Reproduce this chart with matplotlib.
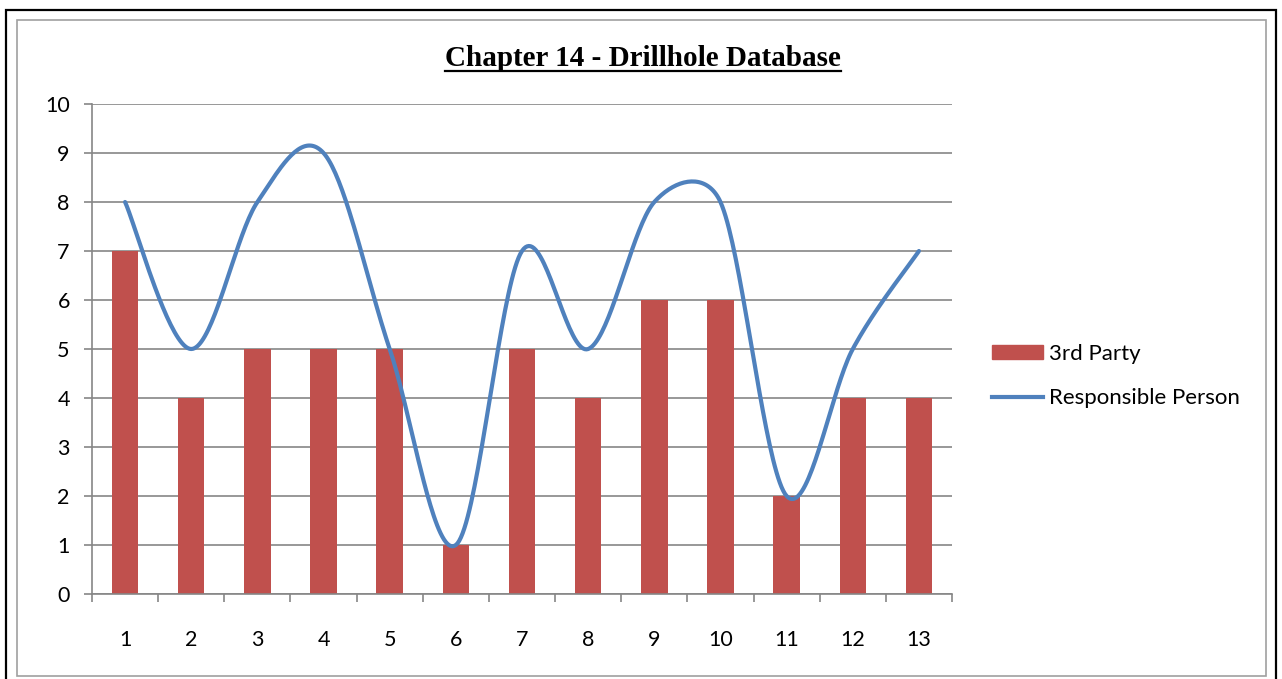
import numpy as np
import matplotlib.pyplot as plt
from matplotlib.patches import Rectangle, Patch
from matplotlib.lines import Line2D

categories = ['1', '2', '3', '4', '5', '6', '7', '8', '9', '10', '11', '12', '13']
third_party = [7, 4, 5, 5, 5, 1, 5, 4, 6, 6, 2, 4, 4]
responsible = [8, 5, 8, 9, 5, 1, 7, 5, 8, 8, 2, 5, 7]

W, H = 1282, 679
fig = plt.figure(figsize=(W / 100, H / 100), dpi=100)

# borders round the chart (outer black, inner gray)
fig.add_artist(Rectangle((6 / W, 1 - 700 / H), 1270 / W, 690 / H, transform=fig.transFigure,
                         fill=False, ec='black', lw=1.6))
fig.add_artist(Rectangle((17 / W, 1 - 676 / H), 1249 / W, 656 / H, transform=fig.transFigure,
                         fill=False, ec='#a0a0a0', lw=1.2))

ax = fig.add_axes([92 / W, 1 - 594 / H, 860 / W, 490 / H])

x = np.arange(1, len(categories) + 1)
ax.bar(x, third_party, width=0.4, color='#C0504D', zorder=2)

ax.set_xlim(0.5, len(categories) + 0.5)
ax.set_ylim(0, 10)


def smooth(xs, ys, n=40):
    # excel-like smoothed line: bezier, control arms = min(chord/6, segment/2) in pixels
    P = ax.transData.transform(np.column_stack([xs, ys]).astype(float))
    out = []
    for i in range(len(P) - 1):
        p0 = P[i - 1] if i > 0 else P[i]
        p1, p2 = P[i], P[i + 1]
        p3 = P[i + 2] if i + 2 < len(P) else P[i + 1]
        half = np.linalg.norm(p2 - p1) / 2
        d1 = p2 - p0
        d2 = p3 - p1
        n1, n2 = np.linalg.norm(d1), np.linalg.norm(d2)
        c1 = p1 + (d1 / n1 * min(n1 / 6, half) if n1 > 0 else 0)
        c2 = p2 - (d2 / n2 * min(n2 / 6, half) if n2 > 0 else 0)
        t = np.linspace(0, 1, n)[:, None]
        seg = (1 - t) ** 3 * p1 + 3 * (1 - t) ** 2 * t * c1 + 3 * (1 - t) * t ** 2 * c2 + t ** 3 * p2
        out.append(seg if i == 0 else seg[1:])
    out = ax.transData.inverted().transform(np.vstack(out))
    return out[:, 0], out[:, 1]


sx, sy = smooth(x, responsible)
ax.plot(sx, sy, color='#4F81BD', lw=3, zorder=3, solid_capstyle='round')

ax.set_yticks(range(0, 11))
ax.set_xticks(np.arange(0.5, len(categories) + 1, 1))
ax.set_xticklabels([])
ax.set_xticks(x, minor=True)
ax.set_xticklabels(categories, minor=True)

tick_font = 'Lato'
ax.tick_params(axis='x', which='major', length=6, color='#868686', width=1.2)
ax.tick_params(axis='x', which='minor', length=0, pad=26, labelsize=15.5)
ax.tick_params(axis='y', length=6, color='#868686', width=1.2, pad=10, labelsize=15.5)
for lab in ax.get_xticklabels(minor=True) + ax.get_yticklabels():
    lab.set_family(tick_font)

ax.grid(axis='y', color='#868686', lw=1.2, zorder=1)
for s in ['top', 'right']:
    ax.spines[s].set_visible(False)
for s in ['left', 'bottom']:
    ax.spines[s].set_color('#868686')
    ax.spines[s].set_linewidth(1.2)

# title with underline
title = fig.text(643 / W, 1 - 58 / H, 'Chapter 14 - Drillhole Database', ha='center', va='center',
                 family='Liberation Serif', weight='bold', fontsize=21)
fig.canvas.draw()
bb = title.get_window_extent()
fig.add_artist(Line2D([bb.x0 / W, bb.x1 / W], [1 - 71 / H, 1 - 71 / H], transform=fig.transFigure,
                      color='black', lw=1.6))

handles = [Patch(color='#C0504D'), Line2D([], [], color='#4F81BD', lw=3)]
fig.legend(handles, ['3rd Party', 'Responsible Person'], loc='center left',
           bbox_to_anchor=(972 / W, 1 - 376 / H), frameon=False,
           prop={'family': tick_font, 'size': 16}, handlelength=2.3, handleheight=0.55,
           handletextpad=0.25, labelspacing=1.1)

fig.savefig('out.png', dpi=100)
